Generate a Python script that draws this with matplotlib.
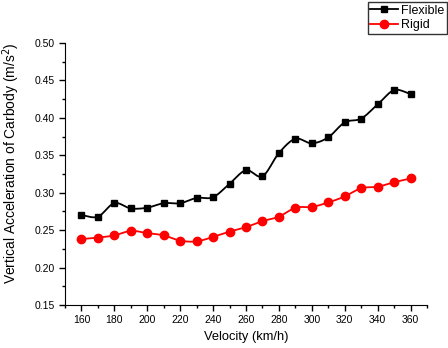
import numpy as np
import matplotlib
matplotlib.use('Agg')
import matplotlib.pyplot as plt
from matplotlib.ticker import MultipleLocator

plt.rcParams['font.family'] = ['Liberation Sans', 'DejaVu Sans']

# ---------------- data ----------------
velocity = [160, 170, 180, 190, 200, 210, 220, 230, 240, 250, 260,
            270, 280, 290, 300, 310, 320, 330, 340, 350, 360]
flexible = [0.270, 0.268, 0.286, 0.279, 0.280, 0.286, 0.286, 0.293, 0.294, 0.312, 0.330,
            0.322, 0.353, 0.372, 0.366, 0.374, 0.394, 0.399, 0.418, 0.437, 0.432]
rigid = [0.238, 0.240, 0.243, 0.249, 0.246, 0.243, 0.236, 0.235, 0.241, 0.248, 0.254,
         0.262, 0.268, 0.280, 0.281, 0.287, 0.295, 0.306, 0.308, 0.314, 0.319]


def smooth(x, y, n=12):
    # Catmull-Rom curve through the points (only for drawing the connecting line)
    x = np.asarray(x, float); y = np.asarray(y, float)
    px = np.concatenate([[2*x[0]-x[1]], x, [2*x[-1]-x[-2]]])
    py = np.concatenate([[2*y[0]-y[1]], y, [2*y[-1]-y[-2]]])
    t = np.linspace(0, 1, n, endpoint=False)
    xs, ys = [], []
    for i in range(1, len(px)-2):
        for p, out in ((px, xs), (py, ys)):
            p0, p1, p2, p3 = p[i-1], p[i], p[i+1], p[i+2]
            out.extend(0.5*((2*p1) + (-p0+p2)*t + (2*p0-5*p1+4*p2-p3)*t**2
                            + (-p0+3*p1-3*p2+p3)*t**3))
    xs.append(x[-1]); ys.append(y[-1])
    return np.array(xs), np.array(ys)


fig = plt.figure(figsize=(4.48, 3.48), dpi=100)
ax = fig.add_axes([65/448, 43/348, 362/448, 262/348])

for y, c, m, ms, lab in ((flexible, 'black', 's', 5, 'Flexible'),
                         (rigid, 'red', 'o', 6, 'Rigid')):
    sx, sy = smooth(velocity, y)
    ax.plot(sx, sy, color=c, lw=1.3)
    ax.plot(velocity, y, ls='none', marker=m, ms=ms, color=c)
    ax.plot([], [], color=c, lw=1.3, marker=m, ms=ms, label=lab)

ax.set_xlim(150, 370)
ax.set_ylim(0.15, 0.50)
ax.xaxis.set_major_locator(MultipleLocator(20))
ax.xaxis.set_minor_locator(MultipleLocator(10))
ax.yaxis.set_major_locator(MultipleLocator(0.05))
ax.yaxis.set_minor_locator(MultipleLocator(0.025))
ax.yaxis.set_major_formatter(matplotlib.ticker.FormatStrFormatter('%.2f'))

for s in ('top', 'right'):
    ax.spines[s].set_visible(False)
ax.tick_params(which='major', direction='out', length=4, width=1, labelsize=7.5)
ax.tick_params(which='minor', direction='out', length=2, width=1)

ax.set_xlabel('Velocity (km/h)', fontsize=9.3)
ax.set_ylabel('Vertical Acceleration of Carbody (m/s$^2$)', fontsize=10)
ax.yaxis.set_label_coords(11/448, 0.53, transform=fig.transFigure)
ax.yaxis.label.set_va('center')

ax.legend(loc='upper right', bbox_to_anchor=(447/448, 1-2/348),
          bbox_transform=fig.transFigure, fontsize=9, frameon=True,
          fancybox=False, edgecolor='black', handlelength=2.2,
          handletextpad=0.3, borderpad=0.2, labelspacing=0.2, borderaxespad=0)

fig.savefig('out.png', dpi=100)
